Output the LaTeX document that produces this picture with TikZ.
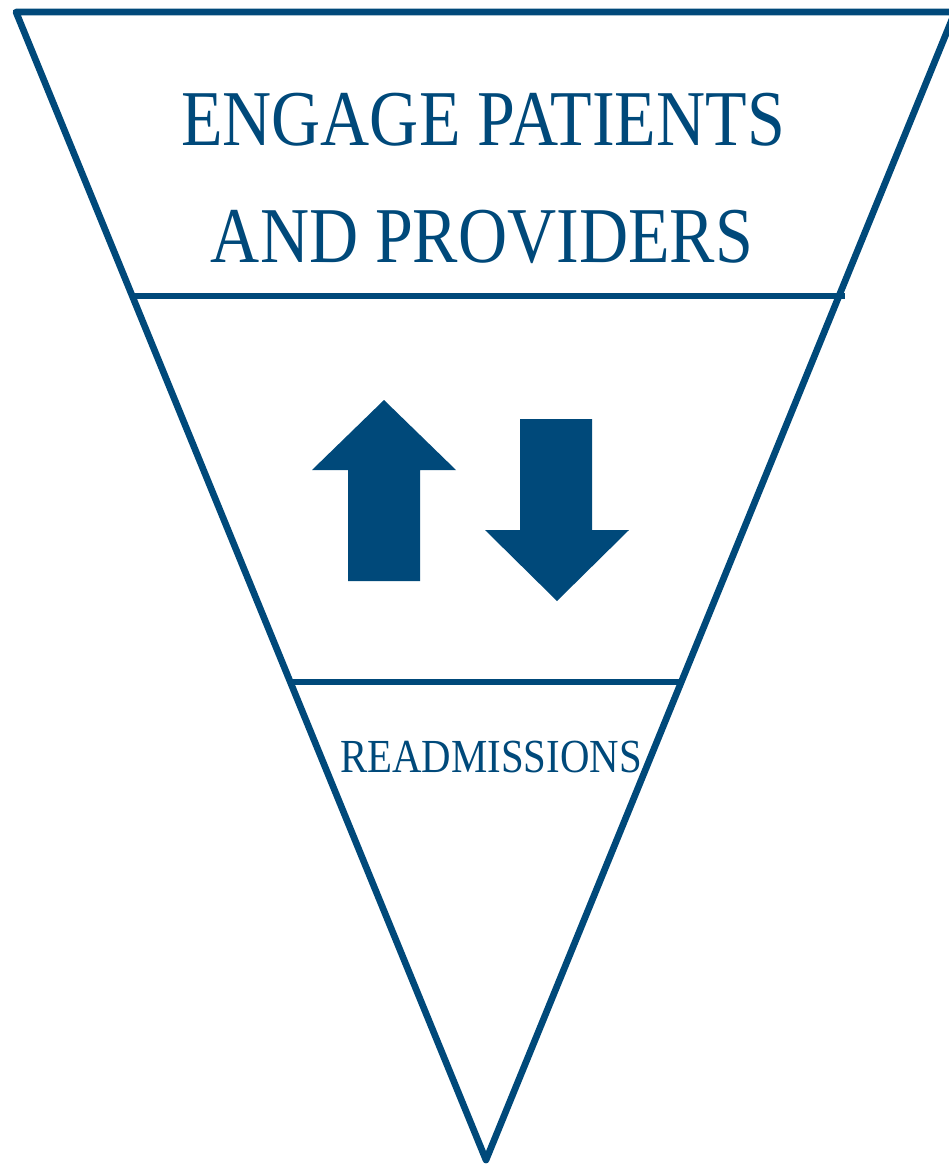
\documentclass[tikz,border=0pt]{standalone}
\usepackage{fontspec}
\newfontfamily\funnelfont[FakeStretch=0.86]{Liberation Serif}
\definecolor{funnelblue}{RGB}{0,73,122}

\begin{document}
\begin{tikzpicture}[x=0.02cm,y=-0.02cm]
	\tikzstyle{every node}+=[inner sep=0pt, text=funnelblue]
	\tikzstyle{edge}=[draw=funnelblue, line width=3.8pt]
	\useasboundingbox (0,0) rectangle (949,1164);
	% funnel outline
	\coordinate (TL) at (16,12);
	\coordinate (TR) at (955,12);
	\coordinate (B) at (486,1160);
	\draw [edge, line join=round] (TR) -- (TL) -- (B) -- (TR);
	% dividing lines
	\coordinate (L1) at (133,296);
	\coordinate (R1) at (845,296);
	\coordinate (L2) at (291,682);
	\coordinate (R2) at (683,682);
	\draw [edge] (L1) -- (R1);
	\draw [edge] (L2) -- (R2);
	% labels
	\node [anchor=base] (engage) at (483,145) {\funnelfont\fontsize{45}{50}\selectfont ENGAGE PATIENTS};
	\node [anchor=base] (providers) at (482,262) {\funnelfont\fontsize{45}{50}\selectfont AND PROVIDERS};
	\node [anchor=base] (readm) at (491,772) {\funnelfont\fontsize{27}{30}\selectfont READMISSIONS};
	% arrows
	\fill [funnelblue] (348,581) -- (348,470) -- (312,470) -- (384,400) -- (456,470) -- (420,470) -- (420,581) -- cycle;
	\fill [funnelblue] (520,419) -- (520,530) -- (485,530) -- (557,601) -- (629,530) -- (592,530) -- (592,419) -- cycle;
\end{tikzpicture}
\end{document}
